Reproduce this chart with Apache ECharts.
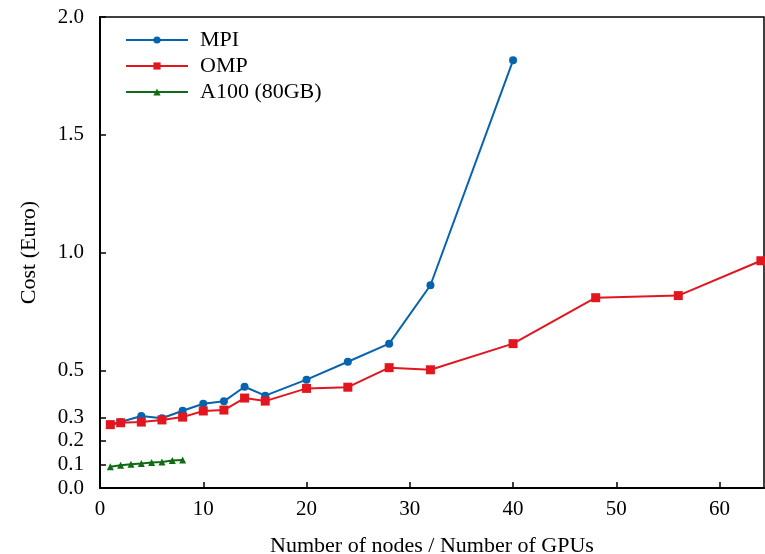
<!DOCTYPE html>
<html>
<head>
<meta charset="utf-8">
<style>
html, body { margin: 0; padding: 0; background: #fff; }
#chart { width: 765px; height: 554px; }
</style>
<script src="https://cdn.jsdelivr.net/npm/echarts@6/dist/echarts.min.js"></script>
</head>
<body>
<div id="chart"></div>
<script>
// nodes / GPUs on x, cost (Euro) on y
const mpiNodes = [1, 2, 4, 6, 8, 10, 12, 14, 16, 20, 24, 28, 32, 40];
const mpiCost = [0.27, 0.28, 0.306, 0.296, 0.328, 0.358, 0.368, 0.43, 0.392, 0.46, 0.536, 0.613, 0.861, 1.816];

const ompNodes = [1, 2, 4, 6, 8, 10, 12, 14, 16, 20, 24, 28, 32, 40, 48, 56, 64];
const ompCost = [0.269, 0.277, 0.28, 0.289, 0.301, 0.327, 0.331, 0.382, 0.369, 0.423, 0.428, 0.511, 0.502, 0.613, 0.808, 0.817, 0.965];

const a100Gpus = [1, 2, 3, 4, 5, 6, 7, 8];
const a100Cost = [0.09, 0.097, 0.101, 0.104, 0.108, 0.11, 0.117, 0.119];

const xTicks = [0, 10, 20, 30, 40, 50, 60];
const yTicks = [0, 0.1, 0.2, 0.3, 0.5, 1.0, 1.5, 2.0];

const font = 'Liberation Serif';

const pairs = (xs, ys) => xs.map((x, i) => [x, ys[i]]);

const chart = echarts.init(document.getElementById('chart'));
chart.setOption({
  animation: false,
  textStyle: { fontFamily: font },
  grid: {
    left: 100, right: 1, top: 17, bottom: 66,
    outerBoundsMode: 'none',
    show: true, borderColor: '#000', borderWidth: 1.5
  },
  legend: {
    orient: 'vertical',
    left: 125, top: 29, padding: 0,
    itemWidth: 62, itemHeight: 9, itemGap: 4,
    textStyle: { fontFamily: font, fontSize: 22, lineHeight: 22, color: '#000', padding: [0, 0, 0, 7] },
    data: ['MPI', 'OMP', 'A100 (80GB)']
  },
  xAxis: {
    type: 'value',
    min: 0, max: 64.3,
    name: 'Number of nodes / Number of GPUs',
    nameLocation: 'middle',
    nameGap: 47,
    nameTextStyle: { fontFamily: font, fontSize: 22, color: '#000' },
    axisLine: { lineStyle: { color: '#000', width: 2 } },
    axisTick: { inside: true, length: 6, customValues: xTicks, lineStyle: { color: '#000', width: 1.5 } },
    axisLabel: { customValues: xTicks, margin: 11, fontFamily: font, fontSize: 21, color: '#000' },
    splitLine: { show: false }
  },
  yAxis: {
    type: 'value',
    min: 0, max: 2,
    name: 'Cost (Euro)',
    nameLocation: 'middle',
    nameRotate: 90,
    nameGap: 60,
    nameTextStyle: { fontFamily: font, fontSize: 22, color: '#000' },
    axisLine: { show: true, lineStyle: { color: '#000', width: 2 } },
    axisTick: { show: true, inside: true, length: 6, customValues: yTicks, lineStyle: { color: '#000', width: 1.5 } },
    axisLabel: {
      customValues: yTicks, margin: 16, fontFamily: font, fontSize: 21, color: '#000',
      formatter: v => v.toFixed(1)
    },
    splitLine: { show: false }
  },
  series: [
    {
      name: 'MPI', type: 'line', data: pairs(mpiNodes, mpiCost),
      color: '#0563b0',
      symbol: 'circle', symbolSize: 8,
      lineStyle: { width: 2 }
    },
    {
      name: 'OMP', type: 'line', data: pairs(ompNodes, ompCost),
      color: '#e2161f',
      symbol: 'rect', symbolSize: 9,
      lineStyle: { width: 2 }
    },
    {
      name: 'A100 (80GB)', type: 'line', data: pairs(a100Gpus, a100Cost),
      color: '#0f6b14',
      symbol: 'triangle', symbolSize: 7,
      lineStyle: { width: 2 }
    }
  ]
});
</script>
</body>
</html>
